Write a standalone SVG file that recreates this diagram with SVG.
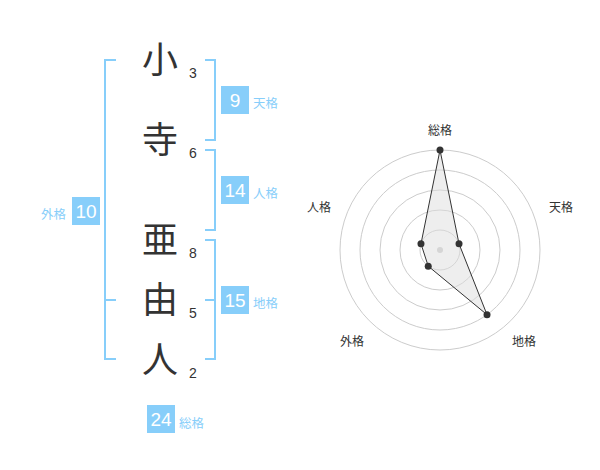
<svg xmlns="http://www.w3.org/2000/svg" width="600" height="470" viewBox="0 0 600 470">
<style>
.ch{font-family:"Noto Sans CJK JP","Noto Sans CJK SC",sans-serif;font-size:36px;fill:#333;text-anchor:middle}
.num{font-family:"Liberation Sans",Arial,sans-serif;font-size:14px;fill:#333;text-anchor:middle}
.br{fill:none;stroke:#87cefa;stroke-width:2}
.box{fill:#87cefa}
.bn{font-family:"Liberation Sans",Arial,sans-serif;font-size:19px;fill:#fff;text-anchor:middle}
.bl{font-family:"Noto Sans CJK JP","Noto Sans CJK SC",sans-serif;font-size:12.5px;fill:#87cefa}
.rl{font-family:"Noto Sans CJK JP","Noto Sans CJK SC",sans-serif;font-size:12px;fill:#333;text-anchor:middle}
.ring{fill:none;stroke:#ccc;stroke-width:1}
.pt{fill:#333}
</style>
<rect width="600" height="470" fill="#fff"/>
<g id="chars">
<text class="ch" x="160" y="73">小</text>
<text class="num" x="193" y="78">3</text>
<text class="ch" x="160" y="153">寺</text>
<text class="num" x="193" y="158">6</text>
<text class="ch" x="160" y="253">亜</text>
<text class="num" x="193" y="258">8</text>
<text class="ch" x="160" y="313">由</text>
<text class="num" x="193" y="318">5</text>
<text class="ch" x="160" y="373">人</text>
<text class="num" x="193" y="378">2</text>
</g>
<g id="connectors">
<path class="br" d="M116,60 H105 V359 H116 M105,300 H116"/>
<path class="br" d="M205,60 H215 V140 H205"/>
<path class="br" d="M205,150 H215 V230 H205"/>
<path class="br" d="M205,240 H215 V359 H205 M215,300 H205"/>
</g>
<g id="tenkaku">
<rect class="box" x="221" y="86" width="28" height="28"/>
<text class="bn" x="235" y="107">9</text>
<text class="bl" x="253" y="108">天格</text>
</g>
<g id="jinkaku">
<rect class="box" x="221" y="176" width="28" height="28"/>
<text class="bn" x="235" y="197">14</text>
<text class="bl" x="253" y="198">人格</text>
</g>
<g id="chikaku">
<rect class="box" x="221" y="286" width="28" height="28"/>
<text class="bn" x="235" y="307">15</text>
<text class="bl" x="253" y="308">地格</text>
</g>
<g id="gaikaku">
<rect class="box" x="72" y="197" width="28" height="28"/>
<text class="bn" x="86" y="218">10</text>
<text class="bl" x="41" y="219">外格</text>
</g>
<g id="soukaku">
<rect class="box" x="147" y="405" width="28" height="28"/>
<text class="bn" x="161" y="426">24</text>
<text class="bl" x="179" y="428">総格</text>
</g>
<g id="radar">
<circle class="ring" cx="440" cy="250" r="20"/>
<circle class="ring" cx="440" cy="250" r="40"/>
<circle class="ring" cx="440" cy="250" r="60"/>
<circle class="ring" cx="440" cy="250" r="80"/>
<circle class="ring" cx="440" cy="250" r="100"/>
<circle cx="440" cy="250" r="3" fill="#ccc"/>
<polygon points="440,150 459.02,243.82 487.02,314.72 428.24,266.18 420.98,243.82" fill="#ddd" fill-opacity="0.5" stroke="#333" stroke-width="1"/>
<circle class="pt" cx="440" cy="150" r="3.5"/>
<circle class="pt" cx="459.02" cy="243.82" r="3.5"/>
<circle class="pt" cx="487.02" cy="314.72" r="3.5"/>
<circle class="pt" cx="428.24" cy="266.18" r="3.5"/>
<circle class="pt" cx="420.98" cy="243.82" r="3.5"/>
<text class="rl" x="440" y="135">総格</text>
<text class="rl" x="561" y="212">天格</text>
<text class="rl" x="524" y="346">地格</text>
<text class="rl" x="352" y="346">外格</text>
<text class="rl" x="319" y="212">人格</text>
</g>
</svg>
